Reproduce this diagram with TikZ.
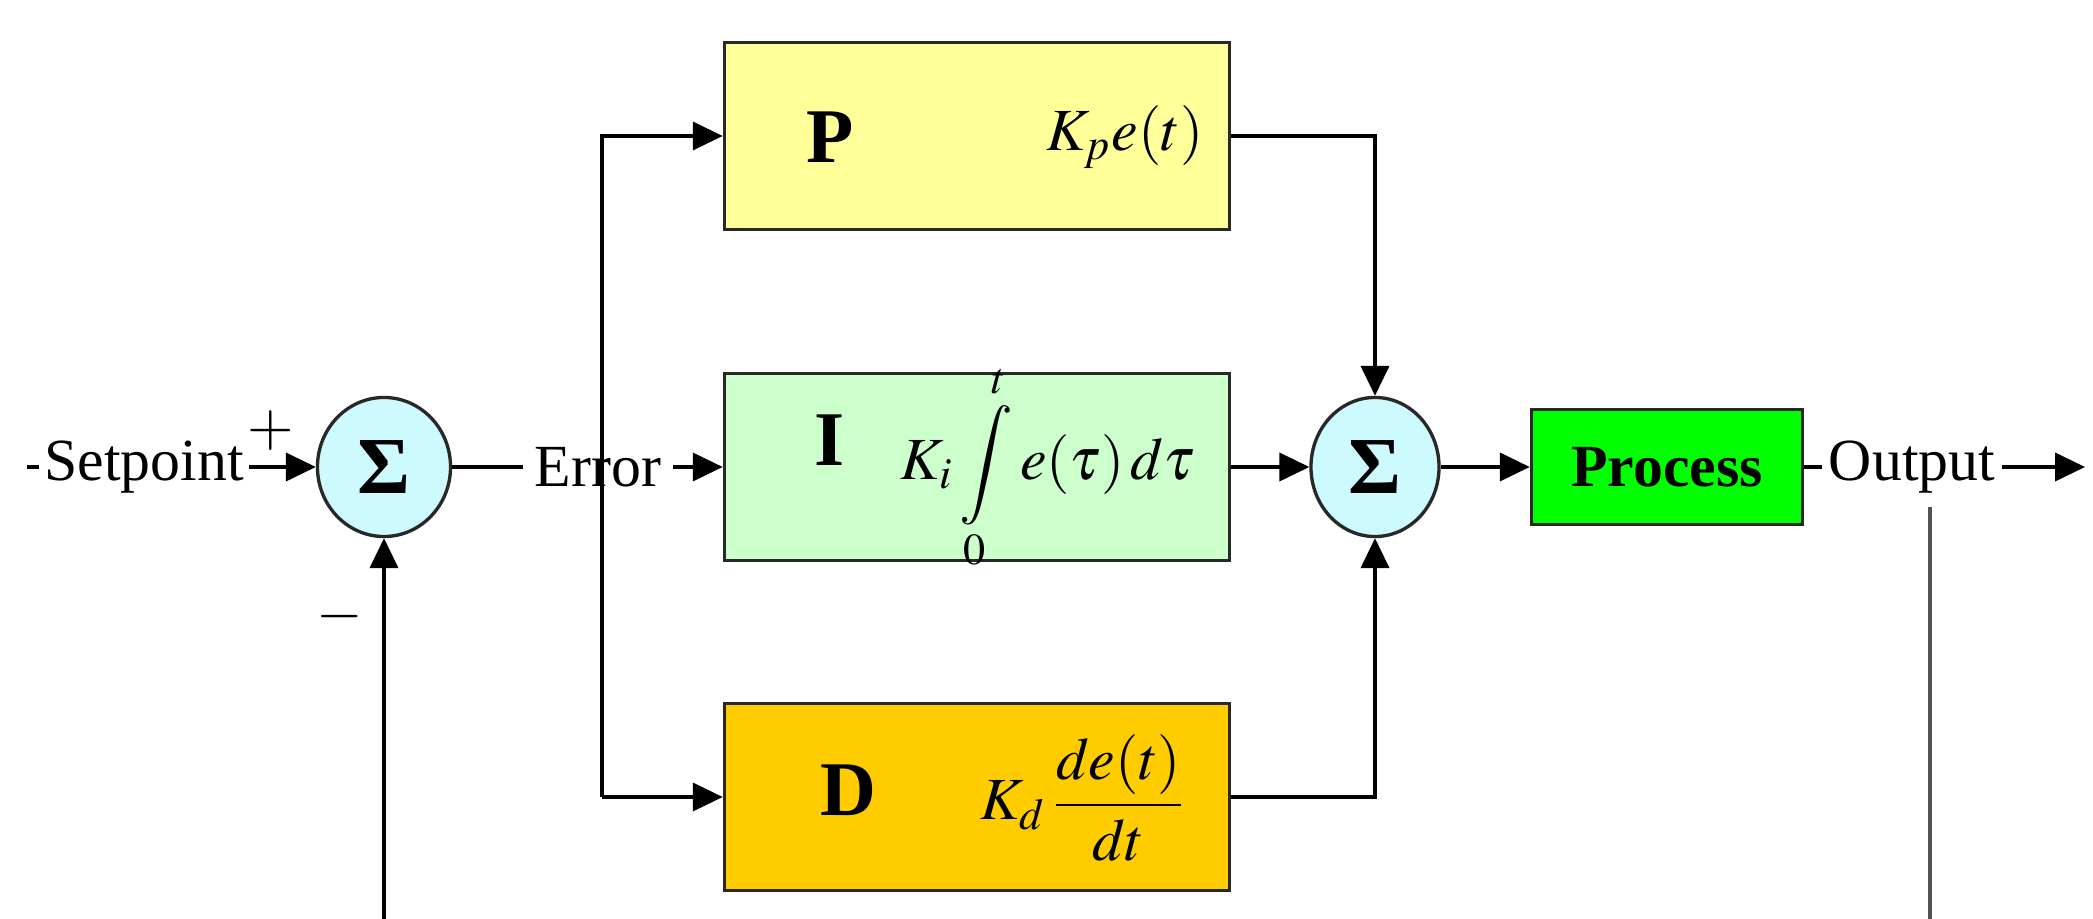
\documentclass[tikz,border=0pt]{standalone}
\definecolor{PYellow}{RGB}{255, 255, 153}
\definecolor{IGreen}{RGB}{204, 255, 204}
\definecolor{DGold}{RGB}{255, 204, 0}
\definecolor{ProcGreen}{RGB}{0, 255, 0}
\definecolor{SumCyan}{RGB}{204, 250, 255}
\definecolor{EdgeGray}{RGB}{40, 40, 40}
\usepackage{mathptmx}
\usepackage{fontspec}
\setmainfont{Liberation Serif}
\usepackage{amsmath}
\usepackage{tikz}
\usetikzlibrary{arrows.meta, positioning, shapes.geometric}

\begin{document}
\begin{tikzpicture}[x=0.01cm, y=-0.01cm, line width=0.95pt,
  lbl/.style={font=\fontsize{17}{20}\selectfont, inner sep=1pt},
  gain/.style={draw=EdgeGray, minimum width=5.05cm, minimum height=1.87cm},
  summer/.style={ellipse, draw=EdgeGray, fill=SumCyan, inner sep=0pt, font=\fontsize{23}{28}\selectfont\bfseries},
  arr/.style={-{Triangle[length=8.5pt, width=8pt]}}]
\useasboundingbox (0,0) rectangle (2093,919);
% summing junctions
\node[summer, minimum width=1.33cm, minimum height=1.39cm] (sum1) at (384,467) {\raisebox{-0.6ex}{Σ}};
\node[summer, minimum width=1.28cm, minimum height=1.39cm] (sum2) at (1375,467) {\raisebox{-0.6ex}{Σ}};
% P, I, D blocks
\node[gain, fill=PYellow] (pbox) at (977,136) {};
\node[gain, fill=IGreen] (ibox) at (977,467) {};
\node[gain, fill=DGold] (dbox) at (977,797) {};
\node[font=\fontsize{22}{26}\selectfont\bfseries] (pname) at (830,137) {P};
\node[font=\fontsize{22}{26}\selectfont\bfseries] (iname) at (830,440) {I};
\node[font=\fontsize{22}{26}\selectfont\bfseries] (dname) at (848,790) {D};
\node[lbl] (pterm) at (1125,137) {$K_p e(t)$};
\node[lbl] (iterm) at (1048,467) {$K_i\displaystyle\int\limits_0^t e(\tau)\,d\tau$};
\node[lbl] (dterm) at (1083,798) {$K_d\,\dfrac{de(t)}{dt}$};
% plant
\node[draw=EdgeGray, fill=ProcGreen, minimum width=2.71cm, minimum height=1.15cm,
  font=\fontsize{17}{20}\selectfont\bfseries] (proc) at (1667,467) {Process};
% signal labels
\coordinate (spin) at (27,467);
\node[lbl] (setpt) at (144,467) {Setpoint};
\node[lbl, inner xsep=3pt] (err) at (598,467) {Error};
\node[lbl, inner xsep=1.5pt] (outp) at (1912,467) {Output};
\coordinate (outend) at (2085,467);
\node[lbl] (plus) at (271,431) {$+$};
\node[lbl] (minus) at (340,617) {$-$};
\coordinate (brd) at (602,797);
\coordinate (fbtop) at (1930,507);
\coordinate (fbbot) at (1930,919);
\coordinate (fbin) at (384,919);
% connectors
\draw (spin) -- (setpt.west);
\draw[arr] (setpt.east) -- (sum1.west);
\draw (sum1.east) -- (err.west);
\draw[arr] (err.east) -- (ibox.west);
\draw[arr] (brd) |- (pbox.west);
\draw[arr] (brd) -- (dbox.west);
\draw[arr] (pbox.east) -| (sum2.north);
\draw[arr] (ibox.east) -- (sum2.west);
\draw[arr] (dbox.east) -| (sum2.south);
\draw[arr] (sum2.east) -- (proc.west);
\draw (proc.east) -- (outp.west);
\draw[arr] (outp.east) -- (outend);
\draw[EdgeGray!80] (fbtop) -- (fbbot);
\draw[arr] (fbin) -- (sum1.south);
\end{tikzpicture}
\end{document}
